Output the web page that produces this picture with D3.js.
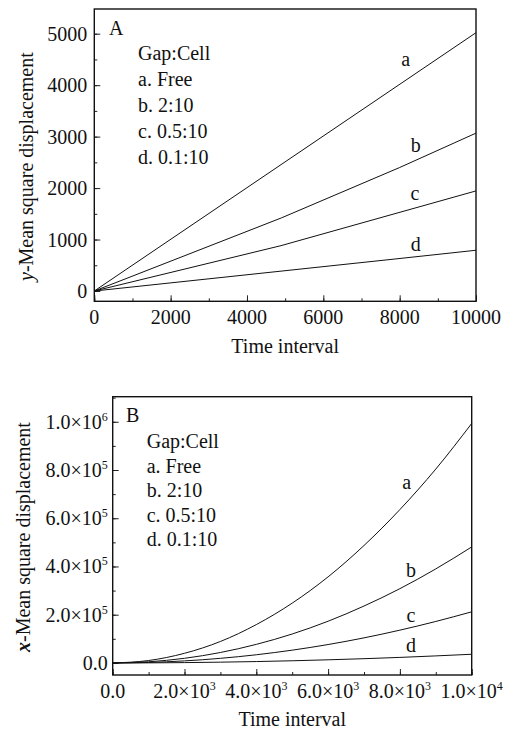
<!DOCTYPE html>
<html><head><meta charset="utf-8">
<script src="https://cdn.jsdelivr.net/npm/d3@7"></script>
<style>
body{margin:0;background:#fff;}
text{font-family:"Liberation Serif","Times New Roman",serif;fill:#111;}
</style></head>
<body><svg id="c" width="511" height="734"></svg>
<script>
// ---- data ----
const seriesLabels = ["a","b","c","d"];
const legendTitle = "Gap:Cell";
const legendItems = ["a. Free","b. 2:10","c. 0.5:10","d. 0.1:10"];

// Panel A: y-mean square displacement vs time interval
const timeA_a = [0, 10000];
const valA_a  = [0, 5020];
const timeA_b = [0, 4900, 8000, 10000];
const valA_b  = [0, 1420, 2400, 3068];
const timeA_c = [0, 4890, 10000];
const valA_c  = [0, 881, 1945];
const timeA_d = [0, 7880, 10000];
const valA_d  = [0, 622, 792];
const ticksA_x = [0, 2000, 4000, 6000, 8000, 10000];
const ticksA_y = [0, 1000, 2000, 3000, 4000, 5000];

// Panel B: x-mean square displacement vs time interval
const timeB = [0,1000,2000,3000,4000,5000,6000,7000,8000,9000,10000];
const valB_a = [0,10000,40000,89000,159000,248000,357000,487000,636000,804000,993000];
const valB_b = [0,4800,19200,43300,77000,120000,173000,236000,308000,390000,481000];
const valB_c = [0,2100,8500,19100,33900,53000,76300,104000,136000,172000,212000];
const valB_d = [0,360,1440,3240,5760,9000,13000,17600,23000,29200,36000];
const ticksB_x = [0, 2000, 4000, 6000, 8000, 10000];
const ticksB_y = [0, 200000, 400000, 600000, 800000, 1000000];

const svg = d3.select("#c");
const FS = 20;

function panel(o){
  const g = svg.append("g");
  const x = d3.scaleLinear().domain(o.xd).range([o.l, o.r]);
  const y = d3.scaleLinear().domain(o.yd).range([o.b, o.t]);
  // ticks (inward)
  const minorX = d3.range(o.xd[0], o.xd[1]+1, o.xMinor);
  const minorY = d3.range(0, o.yd[1], o.yMinor);
  g.append("g").attr("transform",`translate(0,${o.b})`)
    .call(d3.axisBottom(x).tickValues(minorX).tickSize(-3).tickFormat(""))
    .call(s=>{s.select(".domain").remove();});
  g.append("g").attr("transform",`translate(0,${o.b})`)
    .call(d3.axisBottom(x).tickValues(o.xt).tickSize(-6).tickFormat(""))
    .call(s=>{s.select(".domain").remove();});
  g.append("g").attr("transform",`translate(${o.l},0)`)
    .call(d3.axisLeft(y).tickValues(minorY).tickSize(-3).tickFormat(""))
    .call(s=>{s.select(".domain").remove();});
  g.append("g").attr("transform",`translate(${o.l},0)`)
    .call(d3.axisLeft(y).tickValues(o.yt).tickSize(-6).tickFormat(""))
    .call(s=>{s.select(".domain").remove();});
  g.selectAll(".tick line").attr("stroke","#222").attr("stroke-width",1);
  // frame
  g.append("rect").attr("x",o.l).attr("y",o.t).attr("width",o.r-o.l).attr("height",o.b-o.t)
    .attr("fill","none").attr("stroke","#111").attr("stroke-width",1.4);
  // lines
  const line = d3.line().x(d=>x(d[0])).y(d=>y(d[1])).curve(o.curve);
  o.series.forEach(s=>{
    g.append("path").datum(d3.zip(s.t, s.v)).attr("d",line)
      .attr("fill","none").attr("stroke","#111").attr("stroke-width",1);
  });
  // tick labels
  o.xt.forEach(v=>{
    const t = g.append("text").attr("x",x(v)).attr("y",o.b+o.xLabOff)
      .attr("text-anchor","middle").attr("font-size",FS);
    o.fmt(t,v);
  });
  o.yt.forEach(v=>{
    const t = g.append("text").attr("x",o.l-o.yLabOff).attr("y",y(v)+7)
      .attr("text-anchor","end").attr("font-size",FS);
    o.fmt(t,v);
  });
  // series labels
  o.labels.forEach((p,i)=>{
    g.append("text").attr("x",x(p[0])).attr("y",y(p[1])).attr("text-anchor","middle")
      .attr("font-size",FS).text(seriesLabels[i]);
  });
  // panel letter & legend
  g.append("text").attr("x",o.letter[0]).attr("y",o.letter[1]).attr("font-size",FS).text(o.letterText);
  g.append("text").attr("x",o.leg[0]).attr("y",o.leg[1]).attr("font-size",FS).text(legendTitle);
  legendItems.forEach((s,i)=>{
    g.append("text").attr("x",o.leg[0]).attr("y",o.leg[1]+(i+1)*o.legStep).attr("font-size",FS).text(s);
  });
  // axis titles
  g.append("text").attr("x",(o.l+o.r)/2).attr("y",o.xTitleY).attr("text-anchor","middle")
    .attr("font-size",FS).text("Time interval");
  const yt = g.append("text").attr("transform",`translate(${o.yTitleX},${o.yTitleY}) rotate(-90)`)
    .attr("text-anchor","start").attr("font-size",FS);
  yt.append("tspan").attr("font-style","italic").attr("font-weight",o.varBold?"bold":"normal").text(o.yVar);
  yt.append("tspan").text("-Mean square displacement");
}

function plain(t,v){ t.text(String(v)); }
function sci(t,v){
  if(v===0){ t.text("0.0"); return; }
  const e = Math.floor(Math.log10(v)+1e-9);
  const m = (v/Math.pow(10,e)).toFixed(1);
  t.append("tspan").text(m+"\u00D710");
  t.append("tspan").attr("font-size",12).attr("dy",-8).text(String(e));
}

panel({
  l:94.3, r:476, t:9, b:301.3,
  xd:[0,10000], yd:[-200,5480], xt:ticksA_x, yt:ticksA_y, xMinor:1000, yMinor:500,
  series:[{t:timeA_a,v:valA_a},{t:timeA_b,v:valA_b},{t:timeA_c,v:valA_c},{t:timeA_d,v:valA_d}],
  curve:d3.curveLinear,
  fmt:plain, xLabOff:23, yLabOff:7,
  labels:[[8160,4373],[8420,2701],[8400,1769],[8420,783]],
  letter:[109,35], letterText:"A",
  leg:[138,60], legStep:26,
  xTitleY:353, yTitleX:33, yTitleY:281, yVar:"y", varBold:false
});

panel({
  l:112.7, r:471.7, t:396.7, b:675,
  xd:[0,10000], yd:[-50000,1104000], xt:ticksB_x, yt:ticksB_y, xMinor:1000, yMinor:100000,
  series:[{t:timeB,v:valB_a},{t:timeB,v:valB_b},{t:timeB,v:valB_c},{t:timeB,v:valB_d}],
  curve:d3.curveMonotoneX,
  fmt:sci, xLabOff:23, yLabOff:5,
  labels:[[8190,721000],[8310,357600],[8310,168500],[8310,44100]],
  letter:[126,422], letterText:"B",
  leg:[146.7,448], legStep:24.5,
  xTitleY:726, yTitleX:30, yTitleY:652, yVar:"x", varBold:true
});
</script></body></html>
